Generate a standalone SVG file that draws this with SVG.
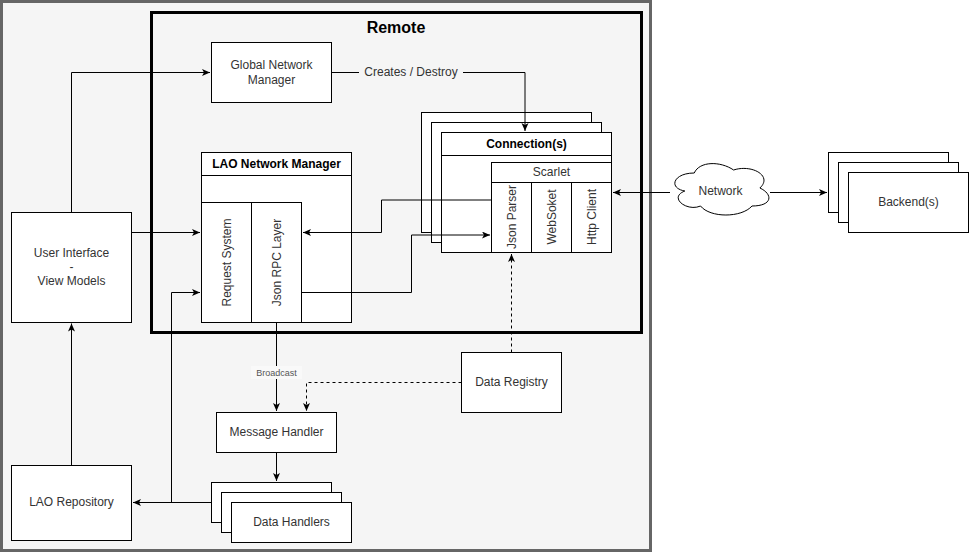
<svg xmlns="http://www.w3.org/2000/svg" width="969" height="553" viewBox="0 0 969 553">
<style>
text{font-family:"Liberation Sans",Arial,sans-serif;font-size:12px;fill:#333;text-anchor:middle;dominant-baseline:central}
.b{font-weight:bold;fill:#000}
.box{fill:#fff;stroke:#000;stroke-width:1}
.ln{fill:none;stroke:#000;stroke-width:1}
.dash{stroke-dasharray:3,3}
</style>
<defs>
<marker id="arr" markerUnits="userSpaceOnUse" markerWidth="10" markerHeight="10" refX="8" refY="3.5" orient="auto">
<path d="M0,0 L8,3.5 L0,7 L2,3.5 Z" fill="#000"/>
</marker>
</defs>
<rect width="969" height="553" fill="#fff"/>
<g id="outer">
<rect x="1.5" y="1.5" width="649" height="549" fill="#f5f5f5" stroke="#666" stroke-width="3"/>
</g>
<g id="remote">
<rect x="151.5" y="12.5" width="490" height="320" fill="none" stroke="#000" stroke-width="3"/>
<text x="396" y="27" class="b" style="font-size:16px">Remote</text>
</g>
<g id="global-network-manager">
<rect class="box" x="211.5" y="42.5" width="120" height="60"/>
<text x="271.5" y="65">Global Network</text>
<text x="271.5" y="80">Manager</text>
</g>
<g id="connections">
<rect class="box" x="421.5" y="112.5" width="170" height="120"/>
<rect class="box" x="431.5" y="122.5" width="170" height="120"/>
<rect class="box" x="441.5" y="132.5" width="170" height="120"/>
<line class="ln" x1="441.5" y1="155.5" x2="611.5" y2="155.5"/>
<text x="526.5" y="144" class="b">Connection(s)</text>
</g>
<g id="scarlet">
<rect class="box" x="491.5" y="162.5" width="120" height="90"/>
<line class="ln" x1="491.5" y1="182.5" x2="611.5" y2="182.5"/>
<line class="ln" x1="531.5" y1="182.5" x2="531.5" y2="252.5"/>
<line class="ln" x1="571.5" y1="182.5" x2="571.5" y2="252.5"/>
<text x="551.5" y="172">Scarlet</text>
<text transform="translate(511.5,217) rotate(-90)">Json Parser</text>
<text transform="translate(551.5,217) rotate(-90)">WebSoket</text>
<text transform="translate(591.5,217) rotate(-90)">Http Client</text>
</g>
<g id="lao-network-manager">
<rect class="box" x="201.5" y="152.5" width="150" height="170"/>
<line class="ln" x1="201.5" y1="175.5" x2="351.5" y2="175.5"/>
<text x="276.5" y="164" class="b">LAO Network Manager</text>
<rect class="box" x="201.5" y="202.5" width="50" height="120"/>
<rect class="box" x="251.5" y="202.5" width="50" height="120"/>
<text transform="translate(226.5,262.5) rotate(-90)">Request System</text>
<text transform="translate(276.5,262.5) rotate(-90)">Json RPC Layer</text>
</g>
<g id="network">
<path class="box" d="M694.25,173 C673.25,173 668,188 684.8,191 C668,197.6 686.9,212 700.55,206 C710,218 741.5,218 752,206 C773,206 773,194 759.9,188 C773,176 752,164 733.6,170 C720.5,161 699.5,161 694.25,173 Z"/>
<text x="720.5" y="191">Network</text>
</g>
<g id="backends">
<rect class="box" x="828.5" y="152.5" width="120" height="60"/>
<rect class="box" x="838.5" y="162.5" width="120" height="60"/>
<rect class="box" x="848.5" y="172.5" width="120" height="60"/>
<text x="908.5" y="202">Backend(s)</text>
</g>
<g id="user-interface">
<rect class="box" x="11.5" y="212.5" width="120" height="110"/>
<text x="71.5" y="253">User Interface</text>
<text x="71.5" y="267">-</text>
<text x="71.5" y="281">View Models</text>
</g>
<g id="lao-repository">
<rect class="box" x="11.5" y="465.5" width="120" height="75"/>
<text x="71.5" y="502">LAO Repository</text>
</g>
<g id="message-handler">
<rect class="box" x="216.5" y="412.5" width="120" height="40"/>
<text x="276.5" y="432">Message Handler</text>
</g>
<g id="data-handlers">
<rect class="box" x="211.5" y="482.5" width="120" height="40"/>
<rect class="box" x="221.5" y="492.5" width="120" height="40"/>
<rect class="box" x="231.5" y="502.5" width="120" height="40"/>
<text x="291.5" y="522">Data Handlers</text>
</g>
<g id="data-registry">
<rect class="box" x="461.5" y="352.5" width="100" height="60"/>
<text x="511.5" y="382">Data Registry</text>
</g>
<g id="connectors">
<path class="ln" d="M331.5,72.5 H525 V131" marker-end="url(#arr)"/>
<rect x="359" y="64" width="104" height="16" fill="#f5f5f5"/>
<text x="411" y="72">Creates / Destroy</text>
<path class="ln" d="M71.5,212.5 V72.5 H210" marker-end="url(#arr)"/>
<path class="ln" d="M131.5,232.5 H200" marker-end="url(#arr)"/>
<path class="ln" d="M491.5,200 H381.5 V232.5 H303" marker-end="url(#arr)"/>
<path class="ln" d="M301.5,292.5 H411.5 V235 H490" marker-end="url(#arr)"/>
<path class="ln" d="M670,192.5 H613" marker-end="url(#arr)"/>
<path class="ln" d="M770,192.5 H827" marker-end="url(#arr)"/>
<path class="ln" d="M71.5,465.5 V323.5" marker-end="url(#arr)"/>
<path class="ln" d="M211.5,502.5 H133" marker-end="url(#arr)"/>
<path class="ln" d="M171.5,502.5 V292.5 H200" marker-end="url(#arr)"/>
<path class="ln" d="M276.5,322.5 V411" marker-end="url(#arr)"/>
<rect x="251" y="366" width="51" height="13" fill="#f9f9f9"/>
<text x="276.5" y="372.5" style="font-size:9px;fill:#555">Broadcast</text>
<path class="ln" d="M276.5,452.5 V481" marker-end="url(#arr)"/>
<path class="ln dash" d="M461.5,382.5 H306.5 V411" marker-end="url(#arr)"/>
<path class="ln dash" d="M511.5,352.5 V254" marker-end="url(#arr)"/>
</g>
</svg>
